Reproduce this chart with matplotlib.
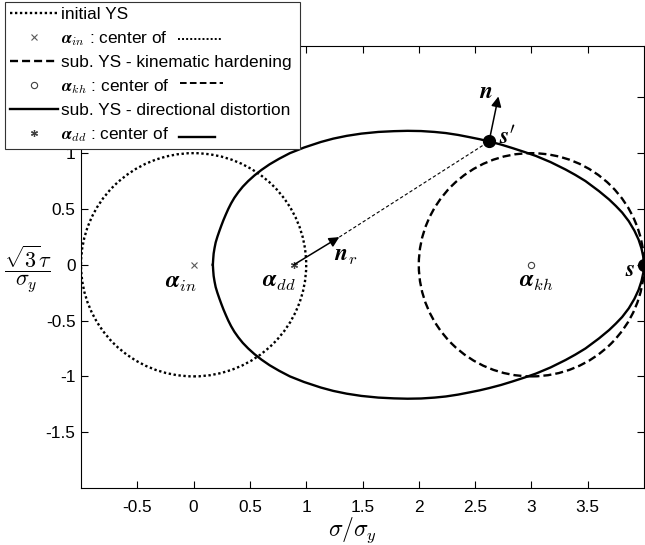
import matplotlib
matplotlib.use('Agg')
import matplotlib.pyplot as plt
from matplotlib.patches import Circle
from matplotlib.lines import Line2D
from matplotlib.transforms import IdentityTransform

plt.rcParams['font.family'] = ['Liberation Sans', 'DejaVu Sans']
plt.rcParams['mathtext.fontset'] = 'cm'
plt.rcParams['axes.unicode_minus'] = False

# yield surface centres (sigma/sigma_y, sqrt(3)tau/sigma_y) and radii
alpha_in = (0.0, 0.0)
alpha_kh = (3.0, 0.0)
alpha_dd = (0.89, 0.0)
r_in = 1.0
r_kh = 1.0

# upper half of the distorted yield surface, mirrored about the sigma axis
dd_x = [0.171, 0.174, 0.178, 0.186, 0.196, 0.211, 0.228, 0.246, 0.265, 0.286,
        0.308, 0.333, 0.362, 0.397, 0.437, 0.485, 0.540, 0.603, 0.675, 0.76,
        0.855, 0.98, 1.13, 1.24, 1.36, 1.49, 1.64, 1.78, 1.90, 2.02, 2.14,
        2.24, 2.35, 2.447, 2.54, 2.624, 2.73, 2.83, 2.94, 3.04, 3.17, 3.304,
        3.39, 3.48, 3.60, 3.69, 3.75, 3.806, 3.865, 3.915, 3.952, 3.978,
        3.994, 4.0]
dd_y = [0.0, 0.05, 0.10, 0.15, 0.20, 0.25, 0.30, 0.35, 0.40, 0.45,
        0.50, 0.55, 0.60, 0.65, 0.70, 0.75, 0.80, 0.85, 0.90, 0.95,
        1.00, 1.05, 1.10, 1.13, 1.155, 1.175, 1.19, 1.197, 1.200, 1.198, 1.190,
        1.180, 1.163, 1.144, 1.125, 1.105, 1.077, 1.046, 1.010, 0.975, 0.920,
        0.853, 0.805, 0.750, 0.660, 0.585, 0.527, 0.468, 0.390, 0.305, 0.225,
        0.145, 0.07, 0.0]

# loading points and normals
s_pt = (4.0, 0.0)
s_prime = (2.624, 1.105)
n_tip = (2.707, 1.508)
nr_tip = (1.294, 0.248)

xticks = [-0.5, 0, 0.5, 1, 1.5, 2, 2.5, 3, 3.5]
xtick_labels = ['-0.5', '0', '0.5', '1', '1.5', '2', '2.5', '3', '3.5']
yticks = [-1.5, -1, -0.5, 0, 0.5, 1, 1.5]
ytick_labels = ['-1.5', '-1', '-0.5', '0', '0.5', '1', '']  # 1.5 sits under the legend

legend_labels = ['initial YS',
                 r'$\boldsymbol{\alpha}_{in}$ : center of',
                 'sub. YS - kinematic hardening',
                 r'$\boldsymbol{\alpha}_{kh}$ : center of',
                 'sub. YS - directional distortion ',
                 r'$\boldsymbol{\alpha}_{dd}$ : center of']

DOT = (0, (1, 1.1))
DASH = (0, (3.4, 1.7))
LW = 1.7
FS = 12.4
W, H = 645, 545

fig = plt.figure(figsize=(W / 100, H / 100), dpi=100)
ax = fig.add_axes([81 / W, 1 - 488 / H, 563 / W, 442 / H])

ax.add_patch(Circle(alpha_in, r_in, fill=False, ls=DOT, lw=LW, ec='k'))
ax.add_patch(Circle(alpha_kh, r_kh, fill=False, ls=DASH, lw=LW, ec='k'))

full_x = dd_x + dd_x[::-1]
full_y = dd_y + [-v for v in dd_y[::-1]]
ax.plot(full_x, full_y, color='k', lw=LW, solid_joinstyle='round')

# centres
ax.plot(*alpha_in, marker='x', color='0.35', ms=4, mew=0.8)
ax.plot(*alpha_kh, marker='o', mfc='white', mec='0.25', ms=4.5, mew=0.8)
ax.plot(*alpha_dd, marker=(6, 2, 0), color='0.25', ms=5, mew=0.9)

# normals
arrow = dict(arrowstyle='-|>', color='k', lw=1.1, mutation_scale=15,
             shrinkA=0, shrinkB=0)
ax.annotate('', xy=nr_tip, xytext=alpha_dd, arrowprops=arrow)
ax.annotate('', xy=n_tip, xytext=s_prime, arrowprops=arrow)
ax.plot([nr_tip[0], s_prime[0]], [nr_tip[1], s_prime[1]], color='k', lw=0.8,
        ls=(0, (3, 2)))

ax.plot(*s_prime, 'ko', ms=8.5)
ax.plot(*s_pt, 'ko', ms=8.5)

lab = dict(ha='center', va='center', fontsize=17)
ax.text(-0.11, -0.165, r'$\boldsymbol{\alpha}_{in}$', **lab)
ax.text(0.76, -0.15, r'$\boldsymbol{\alpha}_{dd}$', **lab)
ax.text(3.04, -0.15, r'$\boldsymbol{\alpha}_{kh}$', **lab)
ax.text(3.88, -0.045, r'$\boldsymbol{s}$', **lab)
ax.text(2.786, 1.144, r"$\boldsymbol{s}'$", **lab)
ax.text(2.60, 1.55, r'$\boldsymbol{n}$', **lab)
ax.text(1.35, 0.08, r'$\boldsymbol{n}_r$', **lab)

ax.set_xlim(-1, 4)
ax.set_ylim(-2, 1.96)
ax.set_xticks(xticks)
ax.set_xticklabels(xtick_labels)
ax.set_yticks(yticks)
ax.set_yticklabels(ytick_labels)
ax.tick_params(direction='in', top=True, right=True, length=5, width=0.8,
               labelsize=FS)
ax.tick_params(axis='x', pad=9)
ax.tick_params(axis='y', pad=4)
for sp in ax.spines.values():
    sp.set_linewidth(0.8)

fig.text(352 / W, 1 - 530 / H, r'$\sigma/\sigma_y$', ha='center', va='center',
         fontsize=17)
fig.text(28 / W, 1 - 269 / H, r'$\dfrac{\sqrt{3}\tau}{\sigma_y}$', ha='center',
         va='center', fontsize=16)

handles = [
    Line2D([], [], color='k', ls=DOT, lw=LW),
    Line2D([], [], ls='none', marker='x', color='0.35', ms=4, mew=0.8),
    Line2D([], [], color='k', ls=DASH, lw=LW),
    Line2D([], [], ls='none', marker='o', mfc='white', mec='0.25', ms=4.5, mew=0.8),
    Line2D([], [], color='k', lw=LW),
    Line2D([], [], ls='none', marker=(6, 2, 0), color='0.25', ms=5, mew=0.9),
]
leg = ax.legend(handles, legend_labels, loc='upper left',
                bbox_to_anchor=(5 / W, 1 - 2 / H), bbox_transform=fig.transFigure,
                fancybox=False, edgecolor='0.2', framealpha=1, borderpad=0.3,
                labelspacing=0.40, handlelength=2.75, handletextpad=0.2,
                borderaxespad=0, fontsize=FS)
leg.get_frame().set_linewidth(0.8)

# small line samples after the "center of" entries
fig.canvas.draw()
texts = leg.get_texts()
for i, ls, dy, length in [(1, DOT, 0, 43), (3, DASH, 3, 43), (5, '-', -3, 36)]:
    bb = texts[i].get_window_extent()
    x0 = bb.x1 + 10
    y = (bb.y0 + bb.y1) / 2 + dy
    fig.add_artist(Line2D([x0, x0 + length], [y, y],
                          transform=IdentityTransform(), color='k',
                          ls=ls, lw=LW if i == 5 else 1.4))

fig.savefig('out.png', dpi=100)
